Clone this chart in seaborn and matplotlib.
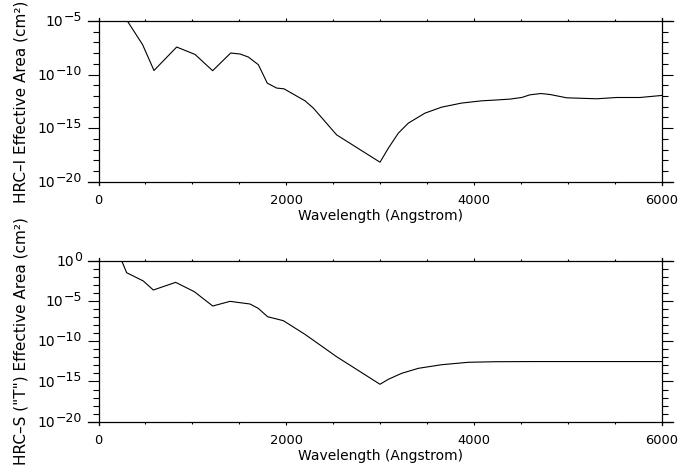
import numpy as np
import pandas as pd
import seaborn as sns
import matplotlib.pyplot as plt
from matplotlib.ticker import FixedLocator, NullFormatter

# HRC-I effective area (log10 cm^2) vs wavelength
wave_i = [200, 300, 470, 591, 833, 1028, 1216, 1408, 1507, 1596, 1703, 1798, 1898,
          1976, 2200, 2289, 2537, 2999, 3088, 3194, 3301, 3478, 3656, 3869, 4082,
          4224, 4384, 4508, 4597, 4714, 4810, 4988, 5307, 5520, 5768, 6000]
logarea_i = [-2.0, -4.9, -7.21, -9.62, -7.43, -8.12, -9.64, -7.99, -8.08, -8.36, -9.08,
             -10.8, -11.26, -11.33, -12.45, -13.13, -15.63, -18.18, -16.87, -15.47,
             -14.53, -13.6, -13.04, -12.66, -12.45, -12.38, -12.29, -12.14, -11.89,
             -11.77, -11.86, -12.17, -12.26, -12.14, -12.14, -11.95]

# HRC-S ("T") effective area
wave_s = [200, 300, 477, 584, 822, 1021, 1217, 1401, 1614, 1702, 1802, 1969, 2200,
          2537, 2999, 3088, 3230, 3407, 3656, 3940, 4224, 4600, 5000, 5500, 6000]
logarea_s = [1.3, -1.49, -2.52, -3.64, -2.69, -3.85, -5.63, -5.05, -5.38, -5.92, -6.96,
             -7.45, -9.15, -11.93, -15.35, -14.73, -13.99, -13.37, -12.92, -12.62,
             -12.55, -12.53, -12.53, -12.53, -12.53]

xticks = [0, 2000, 4000, 6000]
yticks_i = [-20, -15, -10, -5]
yticks_s = [-20, -15, -10, -5, 0]

df_i = pd.DataFrame({"wave": wave_i, "area": 10.0 ** np.array(logarea_i)})
df_s = pd.DataFrame({"wave": wave_s, "area": 10.0 ** np.array(logarea_s)})

sns.set_style("ticks")
plt.rcParams["font.family"] = ["DejaVu Sans"]
plt.rcParams["text.color"] = "black"
plt.rcParams["axes.labelcolor"] = "black"
plt.rcParams["xtick.color"] = "black"
plt.rcParams["ytick.color"] = "black"

W, H = 678, 470
fig = plt.figure(figsize=(W / 100, H / 100), dpi=100)

panels = [
    (df_i, 21, 181.7, yticks_i, "HRC\u2013I Effective Area (cm\u00b2)"),
    (df_s, 260.7, 421.7, yticks_s, "HRC\u2013S (\"T\") Effective Area (cm\u00b2)"),
]
x0, x1 = 98.5, 661.7

for df, top, bot, yt, ylab in panels:
    lo, hi = min(yt), max(yt)
    ax = fig.add_axes([x0 / W, 1 - bot / H, (x1 - x0) / W, (bot - top) / H])
    sns.lineplot(data=df, x="wave", y="area", ax=ax, color="black",
                 linewidth=0.8, estimator=None, sort=False)
    ax.set_yscale("log")
    ax.set_xlim(0, 6000)
    ax.set_ylim(10.0 ** lo, 10.0 ** hi)

    ax.xaxis.set_major_locator(FixedLocator(xticks))
    ax.xaxis.set_minor_locator(FixedLocator(np.arange(0, 6001, 500)))
    ax.yaxis.set_major_locator(FixedLocator([10.0 ** k for k in yt]))
    ax.yaxis.set_minor_locator(FixedLocator([10.0 ** k for k in range(lo, hi + 1)]))
    ax.yaxis.set_major_formatter(NullFormatter())
    ax.yaxis.set_minor_formatter(NullFormatter())

    ax.tick_params(axis="both", which="both", direction="out", top=True, right=True,
                   width=0.8, labelsize=9.4)
    ax.tick_params(axis="y", which="major", length=8)
    ax.tick_params(axis="y", which="minor", length=4.3)
    ax.tick_params(axis="x", which="major", length=2.2, pad=7)
    ax.tick_params(axis="x", which="minor", length=1.3)

    # y tick labels drawn as base + large exponent (IDL style)
    ytrans = ax.get_yaxis_transform()
    for k in yt:
        exp = ax.text(-16.5 / (x1 - x0), 10.0 ** k, "\u2212%d" % -k if k else "0",
                      transform=ytrans, ha="right", va="baseline", fontsize=9)
        ax.annotate("10", xy=(0, 0), xycoords=exp, xytext=(-0.3, 1.3),
                    textcoords="offset points", ha="right", va="center", fontsize=10)

    # axis lines run a little past the corners, as in the original
    dx = 6000 * 11 / (x1 - x0)
    ddec = (hi - lo) * 3 / (bot - top)
    for s in ax.spines.values():
        s.set_visible(True)
        s.set_linewidth(0.9)
        s.set_color("black")
        s.set_clip_on(False)
    ax.spines["top"].set_bounds(-dx, 6000 + dx)
    ax.spines["bottom"].set_bounds(-dx, 6000 + dx)
    ax.spines["left"].set_bounds(10.0 ** (lo - ddec), 10.0 ** (hi + ddec))
    ax.spines["right"].set_bounds(10.0 ** (lo - ddec), 10.0 ** (hi + ddec))

    ax.set_xlabel("Wavelength (Angstrom)", fontsize=10)
    ax.set_ylabel(ylab, fontsize=11)
    ax.yaxis.set_label_coords(-0.125, 0.5)
    ax.xaxis.set_label_coords(0.5, -0.17)

fig.savefig("out.png", dpi=100)
